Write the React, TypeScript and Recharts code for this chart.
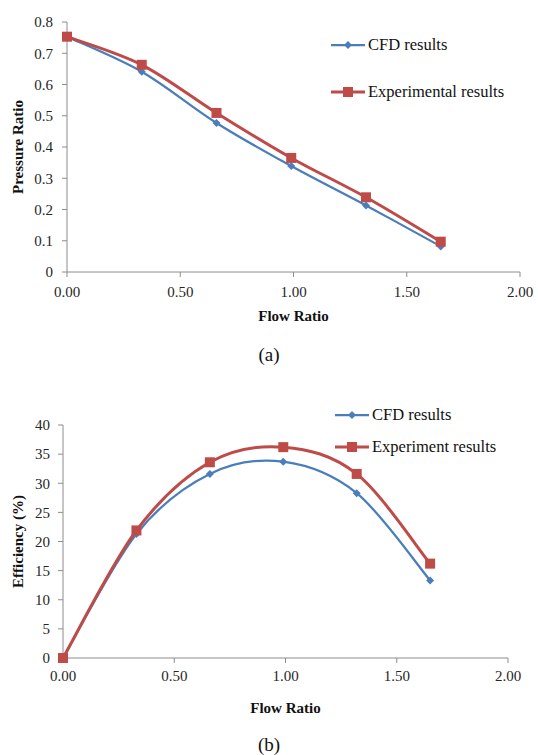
import React from 'react'
import { LineChart, Line, XAxis, YAxis } from 'recharts'

const flowRatio = [0, 0.33, 0.66, 0.99, 1.32, 1.65]
const cfdPressure = [0.753, 0.641, 0.477, 0.339, 0.213, 0.082]
const expPressure = [0.753, 0.663, 0.509, 0.365, 0.239, 0.097]
const cfdEfficiency = [0, 21.3, 31.6, 33.7, 28.3, 13.3]
const expEfficiency = [0, 21.9, 33.6, 36.2, 31.6, 16.2]

const flowTicks = [0, 0.5, 1, 1.5, 2]
const pressureTicks = [0, 0.1, 0.2, 0.3, 0.4, 0.5, 0.6, 0.7, 0.8]
const efficiencyTicks = [0, 5, 10, 15, 20, 25, 30, 35, 40]

const BLUE = '#4a7ebb'
const RED = '#be4b48'
const AXIS = '#8c8c8c'
const FONT = 'Liberation Serif'

const pressureRows = flowRatio.map((x, i) => ({ x, cfd: cfdPressure[i], exp: expPressure[i] }))
const efficiencyRows = flowRatio.map((x, i) => ({ x, cfd: cfdEfficiency[i], exp: expEfficiency[i] }))

// Excel-style smoothed line (Catmull-Rom through the points)
function smoothCurve(context: any) {
  let pts: [number, number][] = []
  return {
    areaStart() {},
    areaEnd() {},
    lineStart() {
      pts = []
    },
    lineEnd() {
      if (!pts.length) return
      context.moveTo(pts[0][0], pts[0][1])
      for (let i = 0; i < pts.length - 1; i++) {
        const p0 = pts[i - 1] || pts[i]
        const p1 = pts[i]
        const p2 = pts[i + 1]
        const p3 = pts[i + 2] || pts[i + 1]
        context.bezierCurveTo(
          p1[0] + (p2[0] - p0[0]) / 6,
          p1[1] + (p2[1] - p0[1]) / 6,
          p2[0] - (p3[0] - p1[0]) / 6,
          p2[1] - (p3[1] - p1[1]) / 6,
          p2[0],
          p2[1],
        )
      }
    },
    point(x: number, y: number) {
      pts.push([+x, +y])
    },
  }
}

function Diamond(props: any) {
  const { cx, cy } = props
  if (cx == null || cy == null) return null
  const r = 4
  return <path d={`M${cx},${cy - r}L${cx + r},${cy}L${cx},${cy + r}L${cx - r},${cy}Z`} fill={BLUE} />
}

function Square(props: any) {
  const { cx, cy } = props
  if (cx == null || cy == null) return null
  return <rect x={cx - 5} y={cy - 5} width={10} height={10} fill={RED} />
}

const tickStyle = { fontSize: 15, fill: '#262626', fontFamily: FONT }
const titleStyle = { fontSize: 15, fontWeight: 700, fill: '#111', fontFamily: FONT }

function LegendRow({ color, marker, label, top, left }: { color: string; marker: 'diamond' | 'square'; label: string; top: number; left: number }) {
  return (
    <div style={{ position: 'absolute', top: top - 10, left, height: 20, display: 'flex', alignItems: 'center', whiteSpace: 'nowrap' }}>
      <svg width={36} height={20} style={{ display: 'block' }}>
        <line x1={0} y1={10} x2={34} y2={10} stroke={color} strokeWidth={marker === 'square' ? 3 : 2.25} />
        {marker === 'diamond' ? (
          <path d="M17,6L21,10L17,14L13,10Z" fill={color} />
        ) : (
          <rect x={12} y={5} width={10} height={10} fill={color} />
        )}
      </svg>
      <span style={{ fontFamily: FONT, fontSize: 16.5, color: '#111', marginLeft: 1 }}>{label}</span>
    </div>
  )
}

function Caption({ text, top }: { text: string; top: number }) {
  return (
    <div style={{ position: 'absolute', top: top - 11, left: 0, width: 538, textAlign: 'center', fontFamily: FONT, fontSize: 19, color: '#111', lineHeight: '22px' }}>
      {text}
    </div>
  )
}

export default function App() {
  return (
    <div style={{ position: 'absolute', top: 0, left: 0, width: 538, height: 755, background: '#fff', fontFamily: FONT }}>
      <div style={{ position: 'absolute', top: 0, left: 0 }}>
        <LineChart width={538} height={340} data={pressureRows} margin={{ top: 22, right: 18, bottom: 19, left: 0 }} style={{ fontFamily: FONT }}>
          <XAxis
            dataKey="x"
            type="number"
            domain={[0, 2]}
            ticks={flowTicks}
            tickFormatter={(v: number) => v.toFixed(2)}
            tick={tickStyle}
            tickSize={5}
            tickMargin={9}
            stroke={AXIS}
            height={49}
            label={{ value: 'Flow Ratio', position: 'insideBottom', offset: 0, style: titleStyle }}
          />
          <YAxis
            type="number"
            domain={[0, 0.8]}
            ticks={pressureTicks}
            tickFormatter={(v: number) => (v === 0 ? '0' : v.toFixed(1))}
            tick={tickStyle}
            tickSize={5}
            tickMargin={9}
            stroke={AXIS}
            width={67}
            label={{ value: 'Pressure Ratio', angle: -90, position: 'insideLeft', offset: 18, style: { ...titleStyle, textAnchor: 'middle' } }}
          />
          <Line dataKey="cfd" type={smoothCurve as any} stroke={BLUE} strokeWidth={2.25} dot={<Diamond />} activeDot={false} isAnimationActive={false} />
          <Line dataKey="exp" type={smoothCurve as any} stroke={RED} strokeWidth={3} dot={<Square />} activeDot={false} isAnimationActive={false} />
        </LineChart>
      </div>
      <LegendRow color={BLUE} marker="diamond" label="CFD results" top={45} left={331} />
      <LegendRow color={RED} marker="square" label="Experimental results" top={92} left={331} />
      <Caption text="(a)" top={355} />

      <div style={{ position: 'absolute', top: 370, left: 0 }}>
        <LineChart width={538} height={385} data={efficiencyRows} margin={{ top: 55, right: 30, bottom: 42, left: 0 }} style={{ fontFamily: FONT }}>
          <XAxis
            dataKey="x"
            type="number"
            domain={[0, 2]}
            ticks={flowTicks}
            tickFormatter={(v: number) => v.toFixed(2)}
            tick={tickStyle}
            tickSize={5}
            tickMargin={7}
            stroke={AXIS}
            height={55}
            label={{ value: 'Flow Ratio', position: 'insideBottom', offset: 0, style: titleStyle }}
          />
          <YAxis
            type="number"
            domain={[0, 40]}
            ticks={efficiencyTicks}
            tick={tickStyle}
            tickSize={5}
            tickMargin={8}
            stroke={AXIS}
            width={63}
            label={{ value: 'Efficiency (%)', angle: -90, position: 'insideLeft', offset: 18, style: { ...titleStyle, textAnchor: 'middle' } }}
          />
          <Line dataKey="cfd" type={smoothCurve as any} stroke={BLUE} strokeWidth={2.25} dot={<Diamond />} activeDot={false} isAnimationActive={false} />
          <Line dataKey="exp" type={smoothCurve as any} stroke={RED} strokeWidth={3} dot={<Square />} activeDot={false} isAnimationActive={false} />
        </LineChart>
      </div>
      <LegendRow color={BLUE} marker="diamond" label="CFD results" top={415} left={335} />
      <LegendRow color={RED} marker="square" label="Experiment results" top={447} left={335} />
      <Caption text="(b)" top={745} />
    </div>
  )
}
